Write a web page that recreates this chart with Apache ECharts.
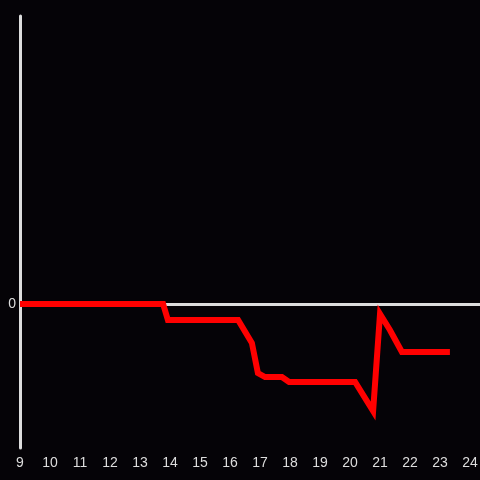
<!DOCTYPE html>
<html>
<head>
<meta charset="utf-8">
<script src="https://cdn.jsdelivr.net/npm/echarts@6/dist/echarts.min.js"></script>
<style>
  html, body { margin: 0; padding: 0; background: #050307; }
  #chart { width: 480px; height: 480px; }
</style>
</head>
<body>
<div id="chart"></div>
<script>
// hour of day
const hours = [9.0, 13.77, 13.93, 16.27, 16.73, 16.93, 17.17, 17.73, 17.97, 20.17, 20.77, 21.0, 21.33, 21.73, 23.33]
// values (only 0 is labelled on the axis)
const values = [0, 0, -16, -16, -39, -69, -73, -73, -78, -78, -107, -10, -26, -48, -48]
const xTicks = [9, 10, 11, 12, 13, 14, 15, 16, 17, 18, 19, 20, 21, 22, 23, 24]

const myChart = echarts.init(document.getElementById('chart'))
const option = {
  backgroundColor: '#050307',
  animation: false,
  grid: { left: 20, right: 0, top: 16, bottom: 32, outerBoundsMode: 'none', containLabel: false },
  xAxis: {
    type: 'value',
    min: 9,
    max: 24.333,
    interval: 1,
    axisLine: { show: false },
    axisTick: { show: false },
    splitLine: { show: false },
    axisLabel: {
      color: '#dddddd',
      fontSize: 14,
      fontFamily: 'Liberation Sans',
      margin: 8,
      hideOverlap: false,
      formatter: v => xTicks.includes(v) ? String(v) : ''
    }
  },
  yAxis: {
    type: 'value',
    min: -144,
    max: 288,
    interval: 144,
    axisLine: { show: true, onZero: false, lineStyle: { color: '#dddddd', width: 3 } },
    axisTick: { show: false },
    splitLine: { show: false },
    axisLabel: {
      color: '#dddddd',
      fontSize: 14,
      fontFamily: 'Liberation Sans',
      margin: 4,
      formatter: v => v === 0 ? '0' : ''
    }
  },
  series: [
    {
      type: 'line',
      data: [],
      z: 1,
      markLine: {
        silent: true,
        symbol: 'none',
        label: { show: false },
        lineStyle: { color: '#dddddd', width: 3, type: 'solid' },
        data: [{ yAxis: 0 }]
      }
    },
    {
      type: 'line',
      z: 5,
      data: hours.map((h, i) => [h, values[i]]),
      showSymbol: false,
      lineStyle: { color: '#ff0000', width: 6, join: 'miter' }
    }
  ]
}
myChart.setOption(option)
</script>
</body>
</html>
